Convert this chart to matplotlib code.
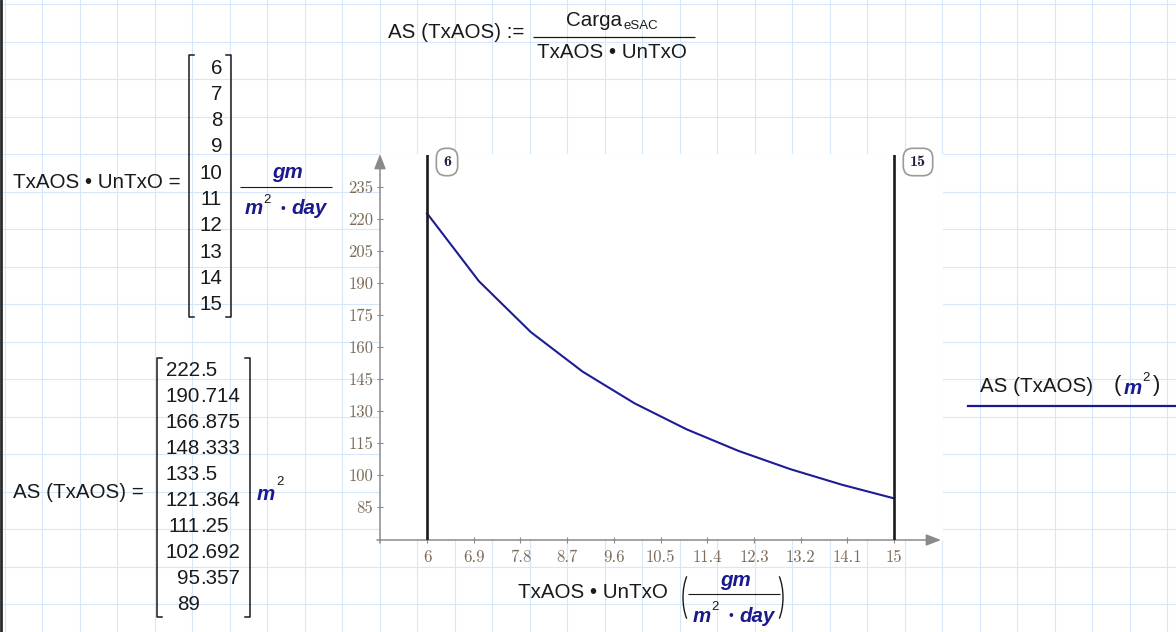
import numpy as np
import matplotlib
matplotlib.use('Agg')
import matplotlib.pyplot as plt
from matplotlib.patches import Rectangle, Arc

# datos de la hoja
tx_aos = [6, 7, 8, 9, 10, 11, 12, 13, 14, 15]
as_tx = [222.5, 190.714, 166.875, 148.333, 133.5, 121.364, 111.25, 102.692, 95.357, 89]
x_ticks = [6, 6.9, 7.8, 8.7, 9.6, 10.5, 11.4, 12.3, 13.2, 14.1, 15]
y_ticks = [85, 100, 115, 130, 145, 160, 175, 190, 205, 220, 235]
marcadores = [6, 15]

W, H = 1176, 632
AZUL = '#1a1a8e'
NEGRO = '#1a1a1a'
GRID = '#d6e7f9'
GRIS = '#8a8a8a'
TICKC = '#7d6c5b'
SANS = 'Liberation Sans'
FS = 14.8

fig = plt.figure(figsize=(W / 100, H / 100), dpi=100)
bg = fig.add_axes([0, 0, 1, 1])
bg.set_xlim(0, W)
bg.set_ylim(H, 0)
bg.axis('off')

# cuadricula de fondo
for k in range(32):
    bg.axvline(4.5 + 37.5 * k, color=GRID, lw=0.8, zorder=0)
for k in range(17):
    bg.axhline(4 + 37.5 * k, color=GRID, lw=0.8, zorder=0)
bg.add_patch(Rectangle((380, 154), 563, 386, facecolor='white', edgecolor='none', zorder=1))
bg.plot([1.2, 1.2], [0, H], color='#2a2a2a', lw=2, zorder=2)


def txt(x, y, s, **kw):
    opts = dict(family=SANS, size=FS, va='center', ha='left', color=NEGRO, zorder=5)
    opts.update(kw)
    bg.text(x, y, s, **opts)


def linea(x1, x2, y, color=NEGRO, lw=0.9):
    bg.plot([x1, x2], [y, y], color=color, lw=lw, zorder=5, solid_capstyle='butt')


def corchete(x, y1, y2, lado):
    d = 5 if lado == 'izq' else -5
    bg.plot([x + d, x, x, x + d], [y1, y1, y2, y2], color=NEGRO, lw=1.1, zorder=5)


def unidad(x0, yl):
    # gm / (m^2 . day)
    txt(x0 + 47, yl - 14, 'gm', color=AZUL, weight='bold', style='italic', ha='center')
    linea(x0, x0 + 92, yl, lw=0.8)
    txt(x0 + 5, yl + 22, 'm', color=AZUL, weight='bold', style='italic')
    txt(x0 + 23, yl + 13, '2', color=NEGRO, size=9.5)
    txt(x0 + 43, yl + 22, '•', color=AZUL, size=10, ha='center')
    txt(x0 + 51, yl + 22, 'day', color=AZUL, weight='bold', style='italic')


# formula superior
txt(388, 33, 'AS (TxAOS) :=')
txt(566, 20, 'Carga')
txt(623, 26, 'eSAC', size=9.5)
linea(533, 695, 37)
txt(612, 53, 'TxAOS • UnTxO', ha='center')

# vector TxAOS . UnTxO
txt(13, 183, 'TxAOS • UnTxO =')
corchete(189, 55, 317, 'izq')
corchete(231, 55, 317, 'der')
for i, v in enumerate(tx_aos):
    txt(222, 68 + 26.3 * i, f'{v:g}', ha='right')
unidad(240, 187)

# vector AS(TxAOS)
txt(13, 492, 'AS (TxAOS) =')
corchete(157, 358, 617, 'izq')
corchete(250, 358, 617, 'der')
for i, v in enumerate(as_tx):
    s = f'{v:g}'
    ent, _, dec = s.partition('.')
    y = 370 + 26.1 * i
    txt(200, y, ent, ha='right')
    if dec:
        txt(200, y, '.' + dec)
txt(257, 494, 'm', color=AZUL, weight='bold', style='italic')
txt(276, 482, '2', color=NEGRO, size=9.5)

# ejes con flechas
bg.annotate('', xy=(941, 540), xytext=(377, 540),
            arrowprops=dict(arrowstyle='-|>,head_length=0.9,head_width=0.35', color=GRIS,
                            lw=1.1, shrinkA=0, shrinkB=0), zorder=3)
bg.annotate('', xy=(380, 154), xytext=(380, 543),
            arrowprops=dict(arrowstyle='-|>,head_length=0.9,head_width=0.35', color=GRIS,
                            lw=1.1, shrinkA=0, shrinkB=0), zorder=3)

# marcadores
for xm, m in zip([447, 918], marcadores):
    bg.text(xm, 162, f'{m}', family='cmb10', size=11.5, color='#202040', ha='center', va='center',
            zorder=6, bbox=dict(boxstyle='round,pad=0.42,rounding_size=0.6', fc='white',
                                ec='#9a9a9a', lw=1.2))

# etiqueta del eje x
txt(518, 592, 'TxAOS • UnTxO')
bg.add_patch(Arc((698, 597.5), 30, 64, theta1=118, theta2=242, color=NEGRO, lw=1.0, zorder=5))
bg.add_patch(Arc((768, 597.5), 30, 64, theta1=-62, theta2=62, color=NEGRO, lw=1.0, zorder=5))
unidad(688, 594)

# leyenda
txt(980, 386, 'AS (TxAOS)')
txt(1114, 386, '(', size=16, weight='light')
txt(1124, 388, 'm', color=AZUL, weight='bold', style='italic')
txt(1142, 378, '2', color=NEGRO, size=9.5)
txt(1153, 386, ')', size=16, weight='light')
bg.plot([968, W], [406, 406], color=AZUL, lw=1.6, zorder=5)

# grafica
ax = fig.add_axes([380 / W, (H - 540) / H, (940 - 380) / W, (540 - 155) / H])
ax.set_facecolor('none')
ax.plot(tx_aos, as_tx, color='#1c1c96', lw=1.5)
for m in marcadores:
    ax.axvline(m, color=NEGRO, lw=1.9)
ax.set_xlim(5.094, 15.886)
ax.set_ylim(69.5, 249.8)
for s in ax.spines.values():
    s.set_visible(False)
ax.set_xticks(x_ticks)
ax.set_xticklabels([f'{t:g}' for t in x_ticks])
ax.set_yticks(y_ticks)
ax.set_yticklabels([f'{t:g}' for t in y_ticks])
ax.tick_params(direction='inout', length=5, width=0.8, color=GRIS, labelcolor=TICKC,
               labelsize=12)
ax.tick_params(axis='x', pad=4.5)
ax.tick_params(axis='y', pad=2.5)
for lab in ax.get_xticklabels() + ax.get_yticklabels():
    lab.set_family('cmr10')

fig.savefig('out.png', dpi=100)
